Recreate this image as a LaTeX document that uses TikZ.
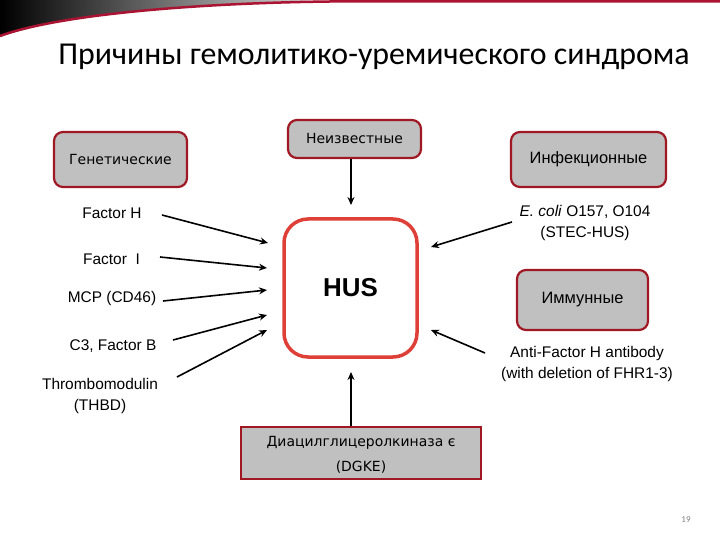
\documentclass[tikz,border=0pt]{standalone}
\usepackage{fontspec}
\setmainfont{Liberation Sans}
\newfontfamily\calfont{Carlito}
\newfontfamily\dvfont{DejaVu Sans}
\usetikzlibrary{arrows.meta}
\definecolor{boxgray}{RGB}{192,192,192}
\definecolor{boxred}{RGB}{160,24,36}
\definecolor{husred}{RGB}{222,64,56}
\definecolor{topred}{RGB}{170,20,50}
\tikzset{
  catbox/.style={draw=boxred, line width=2.2bp, fill=boxgray, rounded corners=9bp, inner sep=0pt},
  lbl/.style={font=\fontsize{15.5}{18.5}\selectfont, align=center, inner sep=0pt},
  arr/.style={line width=1.6bp, -{Stealth[length=8bp,width=7bp]}},
}
\begin{document}
\begin{tikzpicture}[x=1bp,y=-1bp]
\useasboundingbox (0,0) rectangle (720,540);
% header
\shade[left color=black, right color=gray!25] (0,0) -- (330,0) .. controls (200,3) and (60,14) .. (0,37) -- cycle;
\draw[topred, line width=2.5bp] (0,36) .. controls (60,14) and (200,3) .. (330,1.5) -- (720,1.5);
% title
\node[font=\calfont\fontsize{32}{36}\selectfont, inner sep=0pt] (title) at (374,57) {Причины гемолитико-уремического синдрома};
% category boxes
\node[catbox, minimum width=133bp, minimum height=55bp, font=\dvfont\fontsize{14}{16}\selectfont] (gen) at (120.5,159.5) {Генетические};
\node[catbox, minimum width=133bp, minimum height=38bp, font=\dvfont\fontsize{14}{16}\selectfont] (unk) at (354.5,139) {Неизвестные};
\node[catbox, minimum width=155bp, minimum height=55bp, font=\fontsize{16.5}{19}\selectfont] (inf) at (588.5,159.5) {Инфекционные};
\node[catbox, minimum width=131bp, minimum height=60bp, font=\fontsize{16.5}{19}\selectfont] (imm) at (582.5,300) {Иммунные};
% HUS
\node[draw=husred, line width=3.5bp, fill=white, rounded corners=24bp, minimum width=133bp, minimum height=138bp, font=\bfseries\fontsize{26}{30}\selectfont] (hus) at (350.5,288) {HUS};
% DGKE
\node[draw=boxred, line width=1.2bp, fill=boxgray, minimum width=240bp, minimum height=52bp, font=\dvfont\fontsize{14}{25}\selectfont] (dgke) at (361,453) {};
\node[align=center, font=\dvfont\fontsize{14}{25}\selectfont, inner sep=0pt] (dgketext) at (361,455) {Диацилглицеролкиназа є\\(DGKE)};
% left labels
\node[lbl] (fh) at (112,213) {Factor H};
\node[lbl] (fi) at (111.5,259) {Factor\ \ I};
\node[lbl] (mcp) at (112,299) {MCP (CD46)};
\node[lbl] (c3) at (113,346) {C3, Factor B};
\node[lbl, font=\fontsize{15.5}{21}\selectfont] (thbd) at (100,396) {Thrombomodulin\\(THBD)};
% right labels
\node[lbl, font=\fontsize{15.5}{21}\selectfont] (ecoli) at (585,223) {\textit{E. coli} O157, O104\\(STEC-HUS)};
\node[lbl, font=\fontsize{15.5}{21}\selectfont] (antifh) at (587,364) {Anti-Factor H antibody\\(with deletion of FHR1-3)};
% page number
\node[font=\calfont\fontsize{9}{10}\selectfont, text=gray, inner sep=0pt] (pg) at (686,520) {19};
% arrow coordinates
\coordinate (s1) at (162,215); \coordinate (e1) at (268,243);
\coordinate (s2) at (160,257); \coordinate (e2) at (267,268);
\coordinate (s3) at (163,301); \coordinate (e3) at (267,290);
\coordinate (s4) at (173,340); \coordinate (e4) at (267,315);
\coordinate (s5) at (177,377); \coordinate (e5) at (267,330);
\coordinate (s6) at (512,222); \coordinate (e6) at (431,247);
\coordinate (s7) at (485,353); \coordinate (e7) at (431,330);
\coordinate (e8) at (351,205);
\coordinate (e9) at (351,372);
% arrows
\draw[arr] (s1) -- (e1);
\draw[arr] (s2) -- (e2);
\draw[arr] (s3) -- (e3);
\draw[arr] (s4) -- (e4);
\draw[arr] (s5) -- (e5);
\draw[arr] (s6) -- (e6);
\draw[arr] (s7) -- (e7);
\draw[arr] (unk.south -| e8) -- (e8);
\draw[arr] (dgke.north -| e9) -- (e9);
\end{tikzpicture}
\end{document}
